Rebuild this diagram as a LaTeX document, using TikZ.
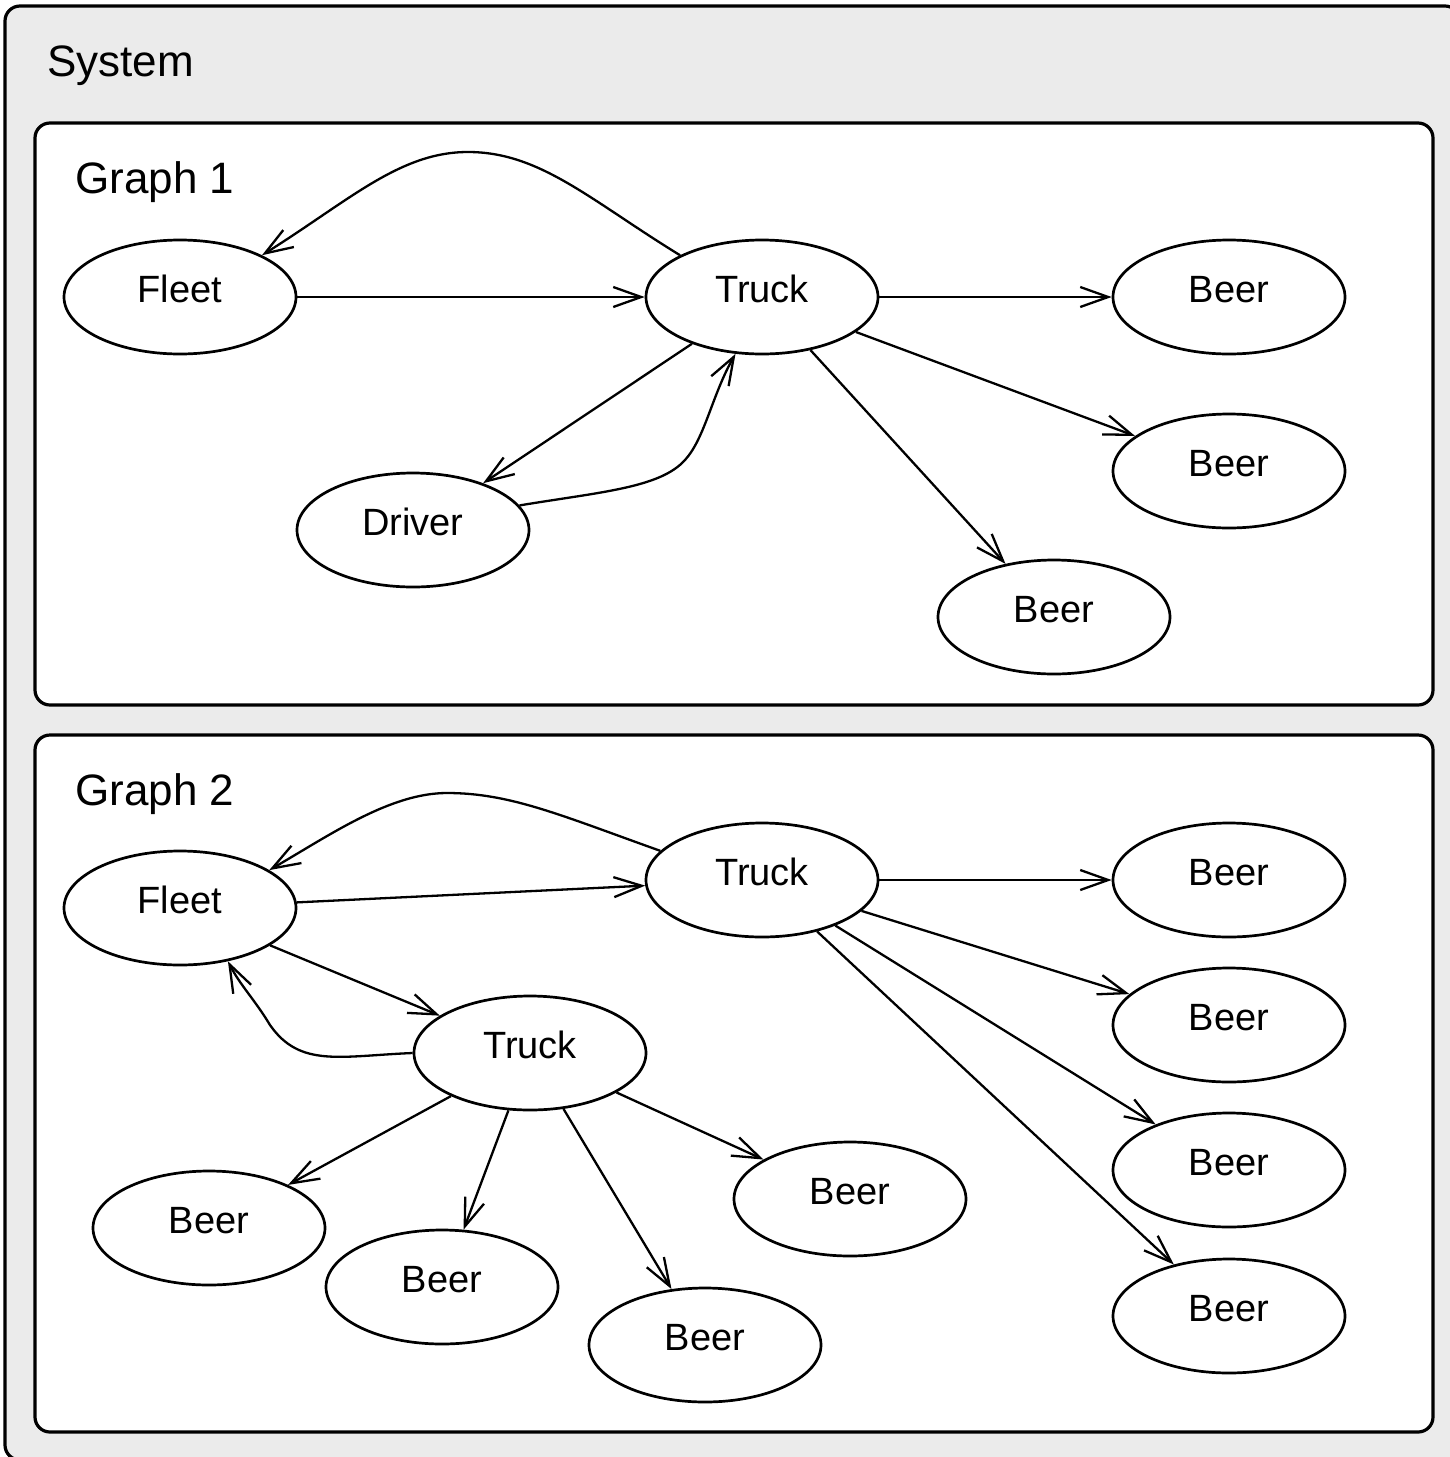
\documentclass[tikz,border=0pt]{standalone}
\usepackage{fontspec}
\setmainfont{Liberation Sans}
\usetikzlibrary{shapes.geometric,arrows.meta}
\definecolor{sysgray}{RGB}{235,235,235}
\begin{document}
\begin{tikzpicture}[x=0.5pt,y=-0.5pt,
  ent/.style={ellipse,draw,line width=1.35pt,fill=white,minimum width=116pt,minimum height=57pt,inner sep=0pt,font=\fontsize{19}{23}\selectfont,text height=12pt,text depth=7pt},
  conn/.style={line width=1.15pt,-{Straight Barb[length=14pt,width=10pt]}},
  box/.style={draw,line width=1.6pt,rounded corners=7.5pt},
  title/.style={anchor=base west,inner sep=0pt,font=\fontsize{22}{26}\selectfont}]
\useasboundingbox (0,0) rectangle (1450,1457);
\clip (0,0) rectangle (1450,1457);
\draw[box,fill=sysgray] (5,6) rectangle (1460,1460);
\draw[box,fill=white] (35,123) rectangle (1433,705);
\draw[box,fill=white] (35,735) rectangle (1433,1432);
\node[title] (sys) at (47,76) {System};
\node[title] (g1) at (75,193) {Graph 1};
\node[title] (g2) at (75,805) {Graph 2};
% Graph 1
\node[ent] (f1) at (180,297) {Fleet};
\node[ent] (t1) at (762,297) {Truck};
\node[ent] (b11) at (1229,297) {Beer};
\node[ent] (b12) at (1229,471) {Beer};
\node[ent] (d1) at (413,530) {Driver};
\node[ent] (b13) at (1054,617) {Beer};
\draw[conn] (f1) -- (t1);
\draw[conn] (t1) -- (b11);
\draw[conn] (t1) -- (b12);
\draw[conn] (t1) -- (b13);
\draw[conn] (t1) -- (d1);
\draw[conn] (t1.153) .. controls (590,200) and (540,152) .. (468,152) .. controls (400,152) and (350,200) .. (f1.27);
\draw[conn] (d1.13) .. controls (600,492) and (660,488) .. (685,460) .. controls (705,438) and (712,395) .. (t1.245);
% Graph 2
\node[ent] (f2) at (180,908) {Fleet};
\node[ent] (t2) at (762,880) {Truck};
\node[ent] (b21) at (1229,880) {Beer};
\node[ent] (b22) at (1229,1025) {Beer};
\node[ent] (b23) at (1229,1170) {Beer};
\node[ent] (b24) at (1229,1316) {Beer};
\node[ent] (t3) at (530,1053) {Truck};
\node[ent] (b31) at (209,1228) {Beer};
\node[ent] (b32) at (442,1287) {Beer};
\node[ent] (b33) at (705,1345) {Beer};
\node[ent] (b34) at (850,1199) {Beer};
\draw[conn] (f2) -- (t2);
\draw[conn] (t2) -- (b21);
\draw[conn] (t2) -- (b22);
\draw[conn] (t2) -- (b23);
\draw[conn] (t2) -- (b24);
\draw[conn] (f2) -- (t3);
\draw[conn] (t3) -- (b31);
\draw[conn] (t3) -- (b32);
\draw[conn] (t3) -- (b33);
\draw[conn] (t3) -- (b34);
\draw[conn] (t2.164) .. controls (560,815) and (510,793) .. (447,793) .. controls (390,793) and (330,835) .. (f2.23);
\draw[conn] (t3.west) .. controls (340,1056) and (300,1068) .. (270,1025) .. controls (255,1000) and (240,985) .. (f2.312);
\end{tikzpicture}
\end{document}
